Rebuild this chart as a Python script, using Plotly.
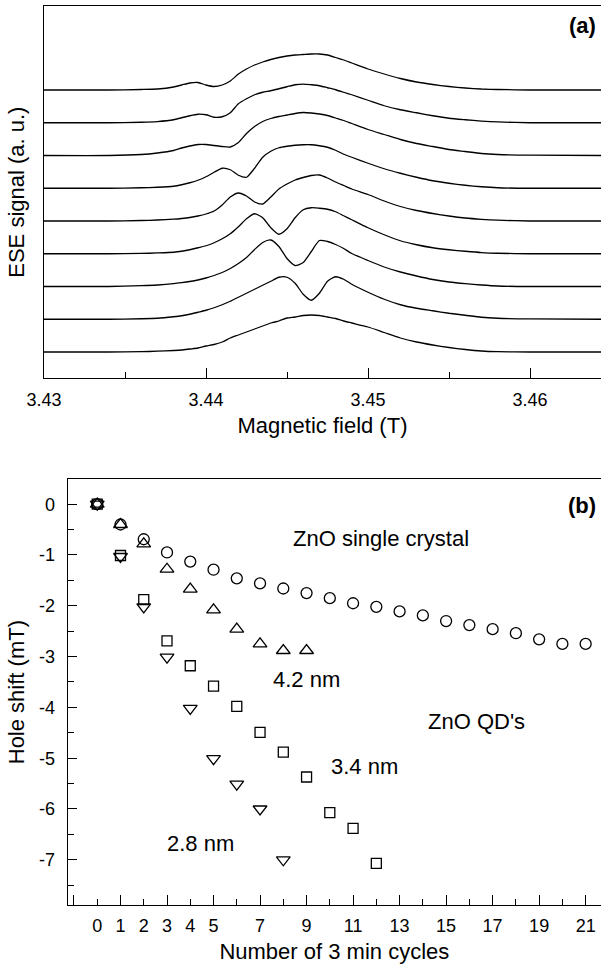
import plotly.graph_objects as go

# ---------------- data: panel (a) ESE spectra ----------------
field = [3.430, 3.434, 3.436, 3.437, 3.438, 3.4385, 3.439, 3.4395, 3.440, 3.4405,
         3.441, 3.4415, 3.442, 3.4425, 3.443, 3.4435, 3.444, 3.4445, 3.445, 3.4455,
         3.446, 3.4465, 3.447, 3.4475, 3.448, 3.4485, 3.449, 3.450, 3.451, 3.452,
         3.453, 3.454, 3.455, 3.456, 3.457, 3.458, 3.460, 3.4645]

ese_1 = [0, 0, 0.5, 1, 3, 5, 7, 7.5, 5, 3.5, 5, 9, 16, 21, 25, 28, 30.5, 32.5, 34, 35,
         35.5, 36, 36, 35, 32.5, 30, 27, 21, 16, 11.5, 8, 5.5, 3.5, 2, 1, 0.5, 0, 0]
ese_2 = [0, 0, 0.5, 1.2, 3, 5, 7, 8.5, 8, 5.5, 6, 10, 19, 24, 28, 30.5, 32, 34, 36, 38,
         38.7, 38, 37, 35, 33, 30.5, 28, 22.5, 17, 13, 10, 7, 4.5, 3, 1.7, 0.8, 0, 0]
ese_3 = [0, 0, 1, 2.5, 5, 7.5, 9.5, 11, 11, 10, 9, 8.5, 13, 22, 29, 34, 37, 39, 40.5, 42,
         43, 42.5, 41.5, 40, 37.5, 35, 32, 26, 21, 16, 12, 9, 6, 4, 2, 1, 0.3, 0]
ese_4 = [0, 0, 0.5, 1, 2, 3.5, 5.5, 8, 11.5, 16, 20, 18.5, 13, 11, 20, 31, 37, 40.5, 42, 43,
         43.5, 43.5, 42.5, 41, 38, 34, 31, 25, 19.5, 15, 11, 7.5, 5, 3, 1.5, 0.5, 0, 0]
ese_5 = [0, 0, 0.5, 1, 1.8, 2.5, 3.5, 5, 7, 10, 16, 24, 28, 25, 19, 17, 24, 32, 37, 41,
         43.5, 45.5, 46, 43, 39, 35.5, 32, 26.5, 20, 14.5, 10.5, 7.5, 5, 3, 1.7, 0.8, 0, 0]
ese_6 = [0, 0, 0.3, 0.8, 1.5, 2.5, 4, 6, 8, 11, 15, 20, 27, 35, 40, 36, 26, 19.5, 25, 36,
         44, 46, 45.5, 44.5, 42, 38, 34, 26, 19, 13, 9, 6, 4, 2.5, 1.2, 0.5, 0, 0]
ese_7 = [0, 0, 0.8, 1.5, 2.8, 3.8, 5, 6.5, 8.5, 11, 14, 18, 23, 29, 37, 44, 46.5, 40, 28, 21,
         24, 35, 46, 45, 42, 38, 33, 26, 19.5, 14.5, 10.5, 7, 4.5, 2.8, 1.5, 0.5, 0, 0]
ese_8 = [0, 0, 0.5, 1, 2.5, 3.5, 5, 7, 9, 11.5, 14.5, 18, 22, 26, 30, 34, 38, 42, 42, 36,
         25, 19, 26, 38, 42.5, 40, 35, 27, 20, 14.5, 11, 8.5, 6, 4, 2, 1, 0.3, 0]
ese_9 = [0, 0, 0.3, 0.8, 1.5, 2, 3, 4, 6, 7.5, 10, 14, 17, 20, 23, 26, 29, 31, 34, 35,
         36.5, 37, 36.5, 35, 33.5, 31, 29, 25, 19.5, 14, 10, 7, 4.5, 2.5, 1, 0.3, 0, 0]

field_ticks = [3.43, 3.44, 3.45, 3.46]
field_minor = [3.435, 3.445, 3.455]

# ---------------- data: panel (b) hole shift ----------------
cycles_crystal = list(range(22))
shift_crystal = [0, -0.40, -0.69, -0.95, -1.13, -1.29, -1.46, -1.56, -1.66, -1.75, -1.85,
                 -1.95, -2.02, -2.11, -2.19, -2.30, -2.38, -2.46, -2.54, -2.66, -2.75, -2.75]
cycles_42 = list(range(10))
shift_42 = [0, -0.40, -0.78, -1.28, -1.67, -2.08, -2.46, -2.75, -2.88, -2.88]
cycles_34 = list(range(13))
shift_34 = [0, -1.01, -1.88, -2.69, -3.18, -3.58, -3.98, -4.49, -4.88, -5.37, -6.07, -6.38, -7.07]
cycles_28 = list(range(9))
shift_28 = [0, -1.03, -2.02, -3.01, -4.02, -5.01, -5.51, -6.0, -7.0]

cycle_labels = [0, 1, 2, 3, 4, 5, 7, 9, 11, 13, 15, 17, 19, 21]
cycle_major = list(range(-1, 22, 2))
cycle_minor = list(range(6, 22, 2))
shift_ticks = [0, -1, -2, -3, -4, -5, -6, -7]

FONT = "Liberation Sans, Arial, Helvetica, sans-serif"
W, H = 601, 964

fig = go.Figure()

spectra = [ese_1, ese_2, ese_3, ese_4, ese_5, ese_6, ese_7, ese_8, ese_9]
spacing = 32.75
n = len(spectra)
for i, s in enumerate(spectra):
    off = (n - 1 - i) * spacing
    fig.add_trace(go.Scatter(x=field, y=[v + off for v in s], mode="lines",
                             line=dict(color="black", width=1.3, shape="spline", smoothing=0.6),
                             xaxis="x", yaxis="y", showlegend=False, hoverinfo="skip"))

mk = dict(color="black", line=dict(color="black", width=1.3))
fig.add_trace(go.Scatter(x=cycles_crystal, y=shift_crystal, mode="markers",
                         marker=dict(symbol="circle-open", size=11, **mk), xaxis="x2", yaxis="y2", showlegend=False))
fig.add_trace(go.Scatter(x=cycles_42, y=shift_42, mode="markers",
                         marker=dict(symbol="triangle-up-open", size=12, **mk), xaxis="x2", yaxis="y2", showlegend=False))
fig.add_trace(go.Scatter(x=cycles_34, y=shift_34, mode="markers",
                         marker=dict(symbol="square-open", size=10, **mk), xaxis="x2", yaxis="y2", showlegend=False))
fig.add_trace(go.Scatter(x=cycles_28, y=shift_28, mode="markers",
                         marker=dict(symbol="triangle-down-open", size=12, **mk), xaxis="x2", yaxis="y2", showlegend=False))
# dummy trace so the overlay axis carrying the long (odd) ticks is rendered
fig.add_trace(go.Scatter(x=[None], y=[None], xaxis="x3", yaxis="y2", showlegend=False))

x0a = 44 / W
top_dom = [1 - 378 / H, 1 - 6.3 / H]
x0b = 67.7 / W
bot_dom = [1 - 905 / H, 1 - 479.3 / H]

tickfont = dict(family=FONT, size=18, color="black")
titlefont = dict(family=FONT, size=22, color="black")
axcommon = dict(showgrid=False, zeroline=False, showline=True, linecolor="black", linewidth=1.3,
                automargin=False)
xrange_b = [-1.27, 21.66]

fig.update_layout(
    template="none",
    width=W, height=H, margin=dict(l=0, r=0, t=0, b=0),
    paper_bgcolor="white", plot_bgcolor="white",
    font=dict(family=FONT, color="black"),
    xaxis=dict(domain=[x0a, 1], anchor="y", range=[3.43, 3.43 + 557 / 16200],
               tickvals=field_ticks, ticktext=[f"{v:.2f}" for v in field_ticks],
               ticks="inside", ticklen=10, tickwidth=1.3, tickcolor="black",
               minor=dict(tickvals=field_minor, ticks="inside", ticklen=6, tickwidth=1.3, tickcolor="black"),
               mirror=True, tickfont=tickfont, ticklabelstandoff=5,
               title=dict(text="Magnetic field (T)", font=titlefont, standoff=8), **axcommon),
    yaxis=dict(domain=top_dom, anchor="x", range=[-26, 345.7], showticklabels=False, ticks="",
               title=dict(text="ESE signal (a. u.)", font=titlefont, standoff=12), **axcommon),
    xaxis2=dict(domain=[x0b, 1], anchor="y2", range=xrange_b,
                tickvals=cycle_labels, ticktext=[str(v) for v in cycle_labels],
                ticks="inside", ticklen=6, tickwidth=1.3, tickcolor="black",
                minor=dict(tickvals=cycle_minor, ticks="inside", ticklen=6, tickwidth=1.3, tickcolor="black"),
                mirror=True, tickfont=tickfont, ticklabelstandoff=4,
                title=dict(text="Number of 3 min cycles", font=titlefont, standoff=10), **axcommon),
    xaxis3=dict(overlaying="x2", anchor="y2", range=xrange_b, tickvals=cycle_major,
                showticklabels=False, ticks="inside", ticklen=10, tickwidth=1.3,
                tickcolor="black", showline=False, showgrid=False,
                zeroline=False, side="bottom", automargin=False),
    yaxis2=dict(domain=bot_dom, anchor="x2", range=[-7.89, 0.49],
                tickvals=shift_ticks, ticktext=[str(v) for v in shift_ticks],
                ticks="inside", ticklen=9, tickwidth=1.3, tickcolor="black",
                minor=dict(dtick=0.5, tick0=0, ticks="inside", ticklen=6, tickwidth=1.3, tickcolor="black"),
                tickfont=tickfont, ticklabelstandoff=8,
                title=dict(text="Hole shift (mT)", font=titlefont, standoff=8), **axcommon),
)

ann_font = dict(family=FONT, size=22, color="black")
fig.add_annotation(x=598 / W, y=1 - 25 / H, xref="paper", yref="paper", text="<b>(a)</b>",
                   showarrow=False, xanchor="right", yanchor="middle", font=dict(family=FONT, size=22, color="black"))
fig.add_annotation(x=598 / W, y=1 - 505 / H, xref="paper", yref="paper", text="<b>(b)</b>",
                   showarrow=False, xanchor="right", yanchor="middle", font=dict(family=FONT, size=22, color="black"))
for txt, xx, yy in [("ZnO single crystal", 12.2, -0.68), ("4.2 nm", 8.98, -3.46),
                    ("ZnO QD's", 16.3, -4.28), ("3.4 nm", 11.47, -5.17), ("2.8 nm", 4.46, -6.68)]:
    fig.add_annotation(x=xx, y=yy, xref="x2", yref="y2", text=txt, showarrow=False,
                       xanchor="center", yanchor="middle", font=ann_font)

fig.write_html("out.html", config={"displayModeBar": False},
               post_script="document.body.style.margin='0';document.body.style.overflow='hidden';")
